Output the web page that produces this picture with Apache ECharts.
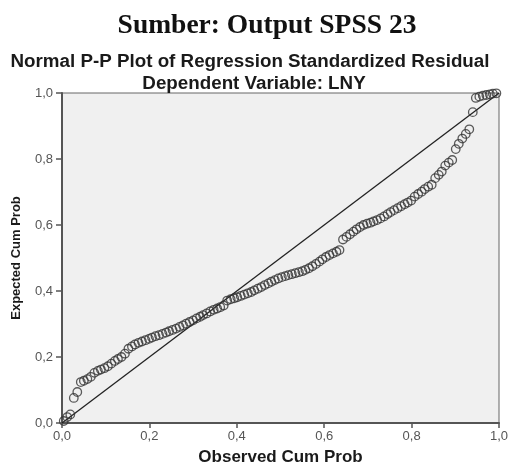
<!DOCTYPE html>
<html>
<head>
<meta charset="utf-8">
<script src="https://cdn.jsdelivr.net/npm/echarts@6/dist/echarts.min.js"></script>
<style>
html,body{margin:0;padding:0;background:#fff;}
#chart{width:509px;height:464px;}
</style>
</head>
<body>
<div id="chart"></div>
<script>
const pageTitle = 'Sumber: Output SPSS 23';
const chartTitle = 'Normal P-P Plot of Regression Standardized Residual';
const chartSubtitle = 'Dependent Variable: LNY';
const xAxisName = 'Observed Cum Prob';
const yAxisName = 'Expected Cum Prob';
const tickValues = [0, 0.2, 0.4, 0.6, 0.8, 1.0];

// Observed cumulative probability (x)
const observed = [
0.004,0.012,0.019,0.027,0.035,0.043,0.050,0.058,0.066,0.074,
0.082,0.089,0.097,0.105,0.113,0.121,0.128,0.136,0.144,0.152,
0.160,0.167,0.175,0.183,0.191,0.199,0.206,0.214,0.222,0.230,
0.238,0.245,0.253,0.261,0.269,0.277,0.284,0.292,0.300,0.308,
0.316,0.323,0.331,0.339,0.347,0.355,0.362,0.370,0.378,0.386,
0.394,0.401,0.409,0.417,0.425,0.433,0.440,0.448,0.456,0.464,
0.472,0.479,0.487,0.495,0.503,0.511,0.518,0.526,0.534,0.542,
0.550,0.557,0.565,0.573,0.581,0.589,0.596,0.604,0.612,0.620,
0.628,0.635,0.643,0.651,0.659,0.667,0.674,0.682,0.690,0.698,
0.706,0.713,0.721,0.729,0.737,0.745,0.752,0.760,0.768,0.776,
0.784,0.791,0.799,0.807,0.815,0.823,0.830,0.838,0.846,0.854,
0.862,0.869,0.877,0.885,0.893,0.901,0.908,0.916,0.924,0.932,
0.940,0.947,0.955,0.963,0.971,0.979,0.986,0.994
];
// Expected cumulative probability (y)
const expected = [
0.006,0.018,0.026,0.076,0.094,0.124,0.128,0.133,0.140,0.152,
0.158,0.162,0.166,0.172,0.180,0.188,0.194,0.200,0.210,0.225,
0.232,0.238,0.243,0.247,0.251,0.255,0.259,0.263,0.266,0.270,
0.274,0.278,0.282,0.286,0.291,0.296,0.301,0.306,0.311,0.317,
0.322,0.327,0.332,0.338,0.343,0.347,0.351,0.356,0.371,0.375,
0.378,0.381,0.385,0.389,0.393,0.397,0.402,0.407,0.412,0.418,
0.423,0.428,0.433,0.438,0.442,0.445,0.448,0.451,0.454,0.457,
0.460,0.464,0.469,0.475,0.482,0.489,0.496,0.503,0.509,0.514,
0.519,0.524,0.556,0.564,0.572,0.580,0.587,0.594,0.600,0.604,
0.607,0.611,0.615,0.620,0.626,0.633,0.639,0.645,0.651,0.657,
0.663,0.668,0.674,0.686,0.694,0.701,0.709,0.716,0.722,0.742,
0.752,0.762,0.780,0.789,0.797,0.830,0.846,0.862,0.876,0.890,
0.942,0.985,0.989,0.992,0.994,0.996,0.998,0.999
];
const refLine = [[0, 0], [1, 1]];

const points = observed.map((x, i) => [x, expected[i]]);
const fmt = v => v.toFixed(1).replace('.', ',');

const chart = echarts.init(document.getElementById('chart'), null, {renderer: 'canvas'});
chart.setOption({
  animation: false,
  backgroundColor: '#ffffff',
  title: [
    {text: pageTitle, left: 262, top: 7, textAlign: 'center',
     textStyle: {fontFamily: 'Liberation Serif', fontWeight: 'bold', fontSize: 27.5, color: '#111'}},
    {text: chartTitle, left: 245, top: 47, textAlign: 'center',
     textStyle: {fontFamily: 'Liberation Sans', fontWeight: 'bold', fontSize: 18.8, color: '#1a1a1a'}},
    {text: chartSubtitle, left: 249, top: 69, textAlign: 'center',
     textStyle: {fontFamily: 'Liberation Sans', fontWeight: 'bold', fontSize: 18.8, color: '#1a1a1a'}}
  ],
  grid: {left: 62, right: 10, top: 93, bottom: 41, show: true, outerBoundsMode: 'none',
         backgroundColor: '#f0f0f0', borderColor: '#666', borderWidth: 1},
  xAxis: {
    type: 'value', min: 0, max: 1, interval: 0.2,
    name: xAxisName, nameLocation: 'middle', nameGap: 26,
    nameTextStyle: {fontFamily: 'Liberation Sans', fontWeight: 'bold', fontSize: 17, color: '#1a1a1a'},
    axisLine: {show: true, lineStyle: {color: '#555', width: 2}},
    axisTick: {show: true, length: 5, lineStyle: {color: '#555', width: 1.5}},
    axisLabel: {formatter: fmt, fontFamily: 'Liberation Sans', fontSize: 13, color: '#555', margin: 7},
    splitLine: {show: false}
  },
  yAxis: {
    type: 'value', min: 0, max: 1, interval: 0.2,
    name: yAxisName, nameLocation: 'middle', nameGap: 39, nameRotate: 90,
    nameTextStyle: {fontFamily: 'Liberation Sans', fontWeight: 'bold', fontSize: 13, color: '#1a1a1a'},
    axisLine: {show: true, lineStyle: {color: '#555', width: 2}},
    axisTick: {show: true, length: 6, lineStyle: {color: '#555', width: 1.5}},
    axisLabel: {formatter: fmt, fontFamily: 'Liberation Sans', fontSize: 13, color: '#555', margin: 9},
    splitLine: {show: false}
  },
  series: [
    {type: 'line', data: refLine, symbol: 'none', silent: true,
     lineStyle: {color: '#222', width: 1.3}, z: 1},
    {type: 'scatter', data: points, symbol: 'circle', symbolSize: 8.5,
     itemStyle: {color: 'rgba(0,0,0,0)', borderColor: '#333', borderWidth: 1.3}, z: 2}
  ]
});
</script>
</body>
</html>
